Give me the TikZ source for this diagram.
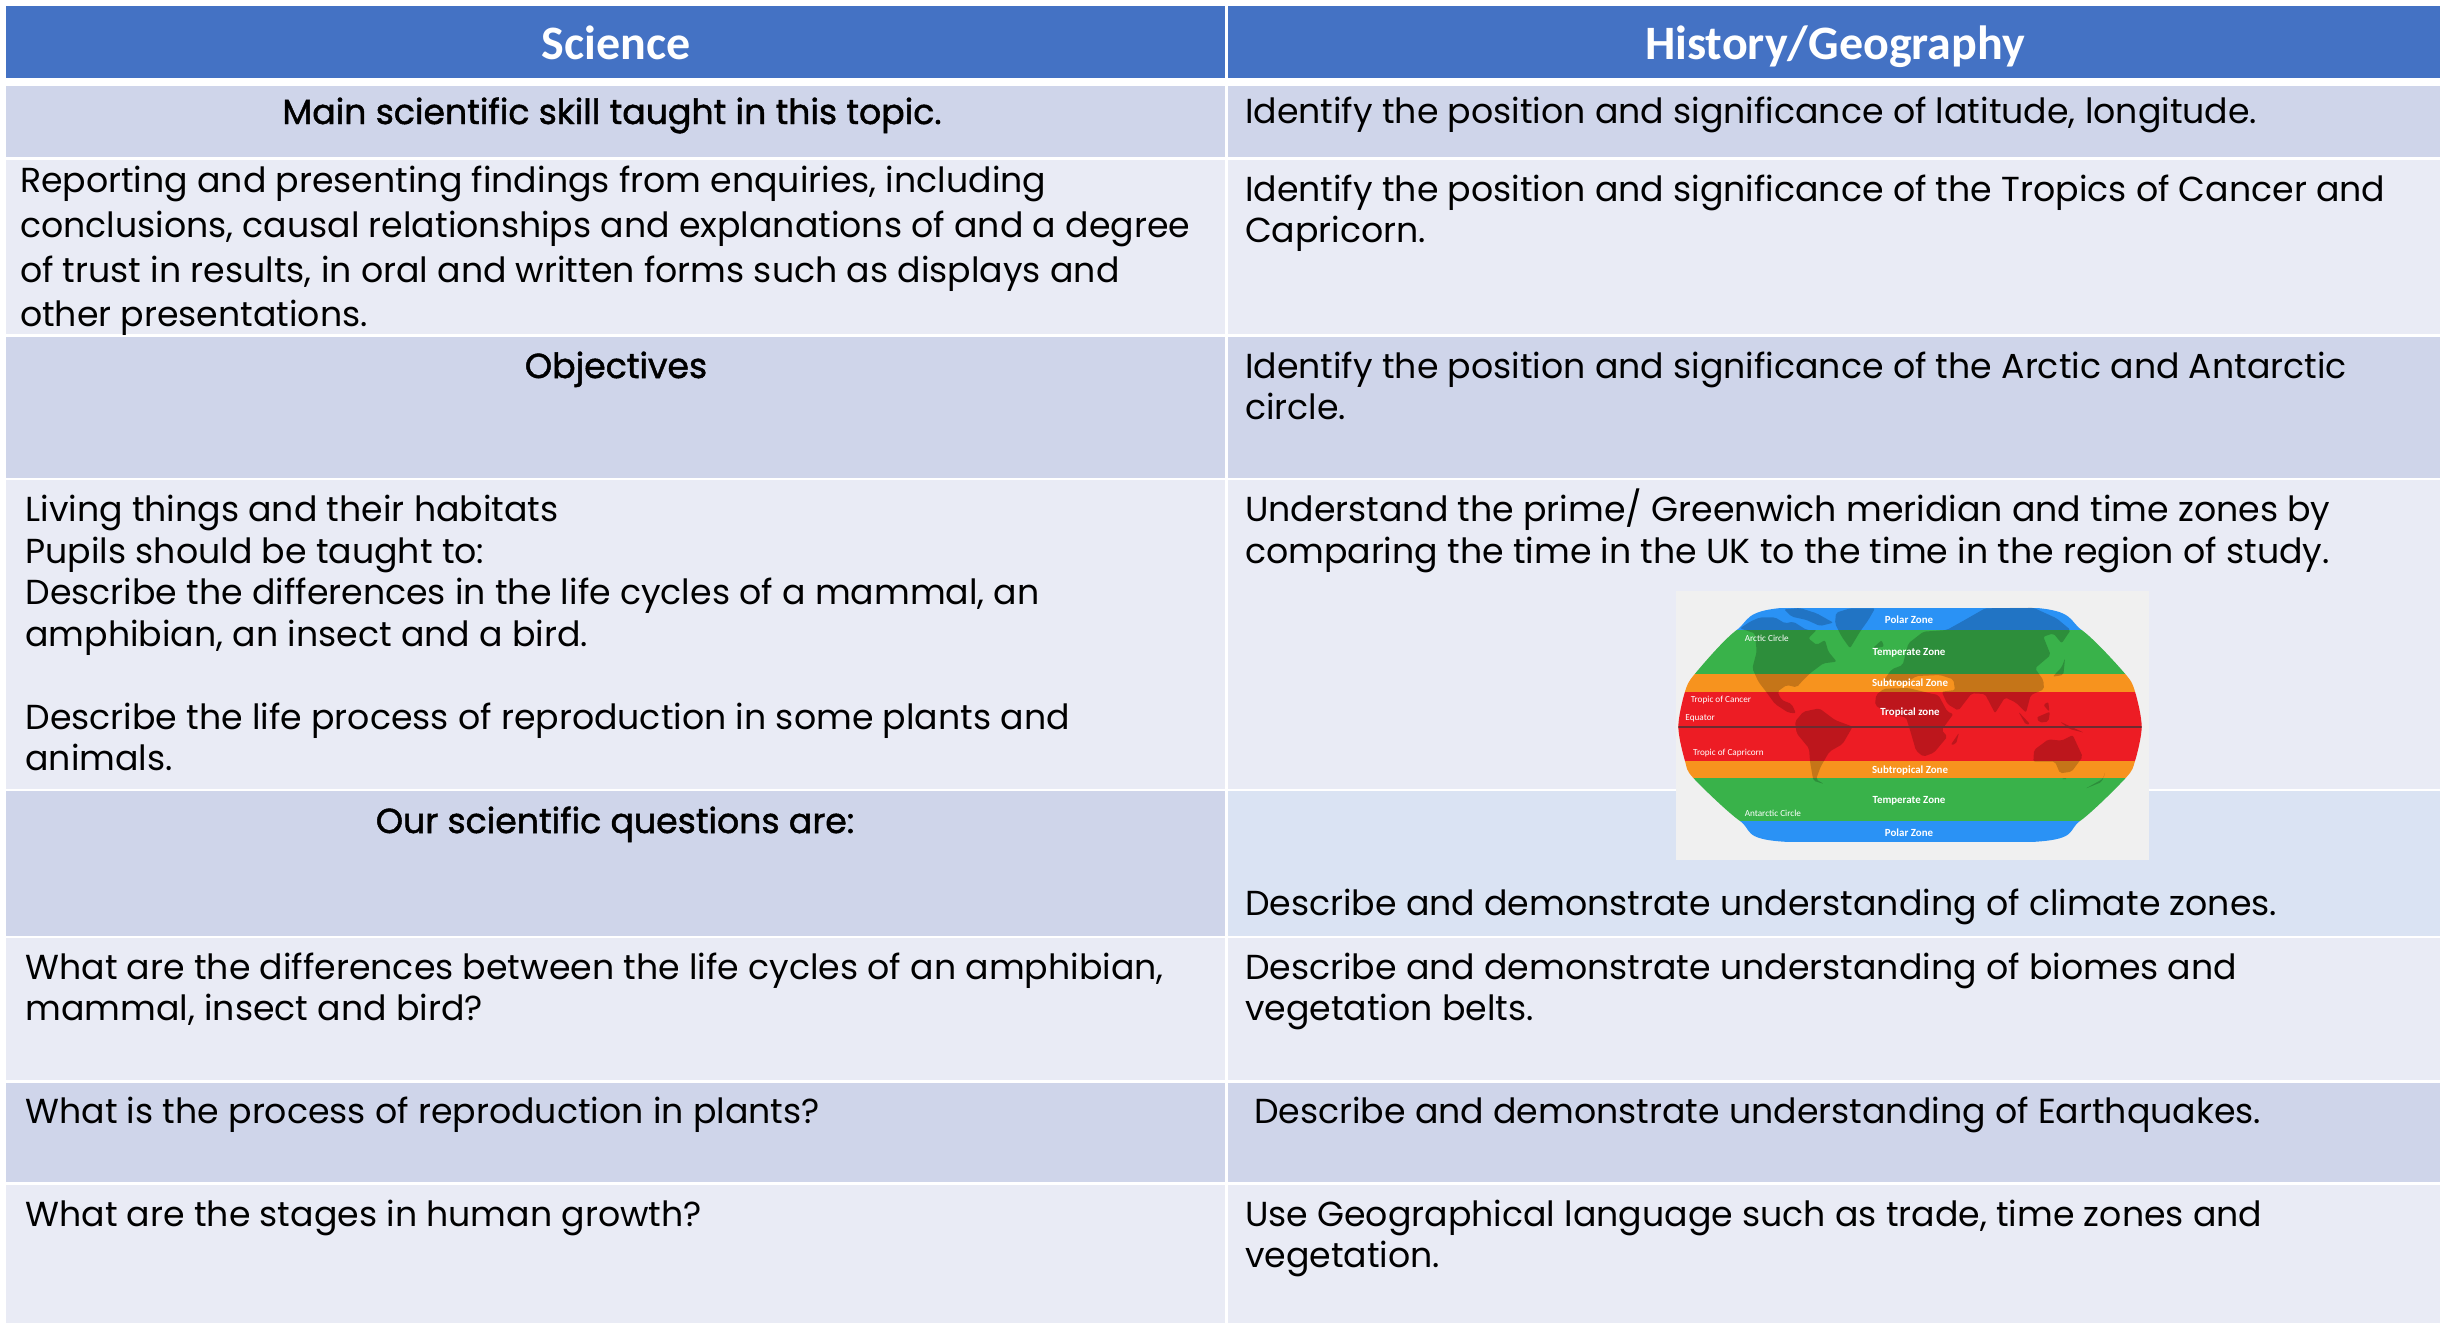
\documentclass[tikz,border=0pt]{standalone}
\usepackage{fontspec}
\setmainfont{Poppins}
\newfontfamily\popmed[FakeBold=1.4]{Poppins}
\newfontfamily\carl{Carlito}
\definecolor{hdr}{HTML}{4472C4}
\definecolor{bandD}{HTML}{CFD5EA}
\definecolor{bandL}{HTML}{E9EBF5}
\definecolor{bandM}{HTML}{DAE3F3}
\definecolor{mapbg}{HTML}{F0F0F0}
\definecolor{zblue}{HTML}{2A92F5}
\definecolor{zgreen}{HTML}{39B24A}
\definecolor{zorange}{HTML}{F7931E}
\definecolor{zred}{HTML}{ED1C24}
\definecolor{eqline}{HTML}{6E2B30}
\tikzset{
  body/.style={anchor=north west,inner sep=0pt,outer sep=0pt,align=left,font=\fontsize{17.36}{20.75}\selectfont,text=black},
  bodywide/.style={body,font=\fontsize{17.36}{22.35}\selectfont},
  head/.style={anchor=base,inner sep=0pt,font=\carl\bfseries\fontsize{24}{28}\selectfont,text=white},
  sub/.style={anchor=base,inner sep=0pt,font=\popmed\fontsize{17.36}{20.75}\selectfont,text=black},
  zonelbl/.style={anchor=center,inner sep=0pt,font=\carl\bfseries\fontsize{5.45}{6}\selectfont,text=white},
  linelbl/.style={anchor=west,inner sep=0pt,font=\carl\fontsize{4.6}{5}\selectfont,text=white},
  land/.style={fill=black,fill opacity=0.2,draw=none,rounded corners=1pt},
}
\begin{document}
\begin{tikzpicture}[x=0.5pt,y=-0.5pt]
\useasboundingbox (0,0) rectangle (2440,1323);
\fill[white] (0,0) rectangle (2440,1323);
% header
\fill[hdr] (5.5,5.5) rectangle (1225,77.5);
\fill[hdr] (1228,5.5) rectangle (2440,77.5);
% rows
\fill[bandD] (5.5,85.5) rectangle (1225,157);   \fill[bandD] (1228,85.5) rectangle (2440,157);
\fill[bandL] (5.5,159.5) rectangle (1225,334);  \fill[bandL] (1228,159.5) rectangle (2440,334);
\fill[bandD] (5.5,336.5) rectangle (1225,477.5);\fill[bandD] (1228,336.5) rectangle (2440,477.5);
\fill[bandL] (5.5,480) rectangle (1225,789);    \fill[bandL] (1228,480) rectangle (2440,789);
\fill[bandD] (5.5,791) rectangle (1225,936);    \fill[bandM] (1228,791) rectangle (2440,936);
\fill[bandL] (5.5,938) rectangle (1225,1080);   \fill[bandL] (1228,938) rectangle (2440,1080);
\fill[bandD] (5.5,1083) rectangle (1225,1182);  \fill[bandD] (1228,1083) rectangle (2440,1182);
\fill[bandL] (5.5,1185) rectangle (1225,1323);  \fill[bandL] (1228,1185) rectangle (2440,1323);
% headers
\node[head] (hs) at (616,59) {Science};
\node[head] (hg) at (1835,59) {History/Geography};
% left column
\node[sub] (l1) at (612,124) {Main scientific skill taught in this topic.};
\node[bodywide] (l2) at (20,161.5) {\strut Reporting and presenting findings from enquiries, including\\conclusions, causal relationships and explanations of and a degree\\of trust in results, in oral and written forms such as displays and\\other presentations.};
\node[sub] (l3) at (616,378) {Objectives};
\node[body] (l4) at (25.5,492.5) {\strut Living things and their habitats\\Pupils should be taught to:\\Describe the differences in the life cycles of a mammal, an\\amphibian, an insect and a bird.\\[20.75pt]Describe the life process of reproduction in some plants and\\animals.};
\node[sub] (l5) at (615,833) {Our scientific questions are:};
\node[body] (l6) at (25.5,950) {\strut What are the differences between the life cycles of an amphibian,\\mammal, insect and bird?};
\node[body] (l7) at (25.5,1094) {\strut What is the process of reproduction in plants?};
\node[body] (l8) at (25.5,1197) {\strut What are the stages in human growth?};
% right column
\node[body] (r1) at (1245,94) {\strut Identify the position and significance of latitude, longitude.};
\node[body] (r2) at (1245,172) {\strut Identify the position and significance of the Tropics of Cancer and\\Capricorn.};
\node[body] (r3) at (1245,349) {\strut Identify the position and significance of the Arctic and Antarctic\\circle.};
\node[body] (r4) at (1245,489) {\strut Understand the prime/ Greenwich meridian and time zones by\\comparing the time in the UK to the time in the region of study.};
\node[body] (r5) at (1245,886) {\strut Describe and demonstrate understanding of climate zones.};
\node[body] (r6) at (1245,950) {\strut Describe and demonstrate understanding of biomes and\\vegetation belts.};
\node[body] (r7) at (1254,1094) {\strut Describe and demonstrate understanding of Earthquakes.};
\node[body] (r8) at (1245,1197) {\strut Use Geographical language such as trade, time zones and\\vegetation.};
% map: coordinates below are in 3x crop units
\begin{scope}[shift={(1660,580)},scale=1/3]
\fill[mapbg] (48,33) rectangle (1467,840);
\begin{scope}
\clip plot[smooth cycle,tension=0.5] coordinates {(375,83) (230,150) (105,281) (75,335) (55,440) (75,543) (100,594) (240,723) (370,785) (1130,785) (1260,723) (1397,594) (1425,543) (1445,440) (1425,335) (1395,281) (1265,150) (1120,83)};
\clip (0,83) rectangle (1560,785);
\fill[zblue] (0,83) rectangle (1560,150);
\fill[zgreen] (0,150) rectangle (1560,281);
\fill[zorange] (0,281) rectangle (1560,335);
\fill[zred] (0,335) rectangle (1560,543);
\fill[zorange] (0,543) rectangle (1560,594);
\fill[zgreen] (0,594) rectangle (1560,723);
\fill[zblue] (0,723) rectangle (1560,785);
% North America
\fill[land] (240,145) -- (270,125) -- (300,112) -- (345,112) -- (375,130) -- (400,125) -- (440,150) -- (470,150) -- (445,175) -- (470,195) -- (495,180) -- (505,215) -- (530,245) -- (490,250) -- (450,280) -- (425,305) -- (410,322) -- (380,315) -- (352,335) -- (365,360) -- (395,372) -- (408,400) -- (385,398) -- (345,372) -- (318,335) -- (295,305) -- (277,265) -- (290,215) -- (285,160) -- cycle;
% Arctic islands
\fill[land] (372,88) -- (420,84) -- (470,100) -- (520,128) -- (480,138) -- (440,120) -- (395,110) -- cycle;
\fill[land] (528,98) -- (570,85) -- (645,85) -- (625,120) -- (600,155) -- (570,205) -- (545,170) -- (525,130) -- cycle;
% South America
\fill[land] (405,425) -- (430,395) -- (478,385) -- (525,420) -- (578,440) -- (548,492) -- (508,515) -- (482,560) -- (468,598) -- (492,612) -- (460,602) -- (450,545) -- (447,505) -- (410,460) -- cycle;
% Africa
\fill[land] (648,345) -- (672,326) -- (745,324) -- (810,340) -- (835,345) -- (862,395) -- (880,402) -- (845,450) -- (862,470) -- (822,518) -- (790,530) -- (768,512) -- (750,450) -- (738,412) -- (685,402) -- (645,375) -- cycle;
% Eurasia
\fill[land] (695,268) -- (728,255) -- (745,190) -- (790,155) -- (860,150) -- (905,125) -- (975,85) -- (1120,83) -- (1190,115) -- (1232,150) -- (1205,190) -- (1180,160) -- (1150,170) -- (1172,225) -- (1125,265) -- (1150,300) -- (1152,328) -- (1112,345) -- (1098,398) -- (1068,368) -- (1035,352) -- (1005,400) -- (975,342) -- (935,340) -- (895,392) -- (862,372) -- (845,335) -- (885,330) -- (880,298) -- (840,285) -- (770,288) -- (735,310) -- (700,300) -- (668,305) -- cycle;
% Australia
\fill[land] (1122,510) -- (1165,478) -- (1205,482) -- (1238,465) -- (1268,530) -- (1235,575) -- (1200,580) -- (1185,545) -- (1120,545) -- cycle;
% Islands
\fill[land] (1075,395) -- (1110,432) -- (1098,435) -- cycle;
\fill[land] (1130,412) -- (1170,395) -- (1165,425) -- (1138,428) -- cycle;
\fill[land] (1200,425) -- (1272,458) -- (1228,447) -- cycle;
\fill[land] (1150,375) -- (1165,365) -- (1168,395) -- cycle;
\fill[land] (1178,290) -- (1205,262) -- (1215,235) -- (1210,285) -- cycle;
\fill[land] (872,495) -- (897,458) -- (888,492) -- cycle;
\fill[land] (1276,626) -- (1330,596) -- (1336,575) -- (1325,606) -- cycle;
\fill[land] (638,205) -- (665,180) -- (672,200) -- cycle;
\fill[land] (1205,595) -- (1222,595) -- (1212,600) -- cycle;
\fill[eqline] (0,437) rectangle (1560,444);
\end{scope}
\node[zonelbl] (zp1) at (747,119) {Polar Zone};
\node[zonelbl] (zt1) at (747,218) {Temperate Zone};
\node[zonelbl] (zs1) at (750,311) {Subtropical Zone};
\node[zonelbl] (ztr) at (750,398) {Tropical zone};
\node[zonelbl] (zs2) at (750,571) {Subtropical Zone};
\node[zonelbl] (zt2) at (747,662) {Temperate Zone};
\node[zonelbl] (zp2) at (747,757) {Polar Zone};
\node[linelbl] (ca) at (253,174) {Arctic Circle};
\node[linelbl] (tc) at (91,360) {Tropic of Cancer};
\node[linelbl] (eq) at (75,415) {Equator};
\node[linelbl] (tp) at (98,520) {Tropic of Capricorn};
\node[linelbl] (aa) at (253,699) {Antarctic Circle};
\end{scope}
\end{tikzpicture}
\end{document}
